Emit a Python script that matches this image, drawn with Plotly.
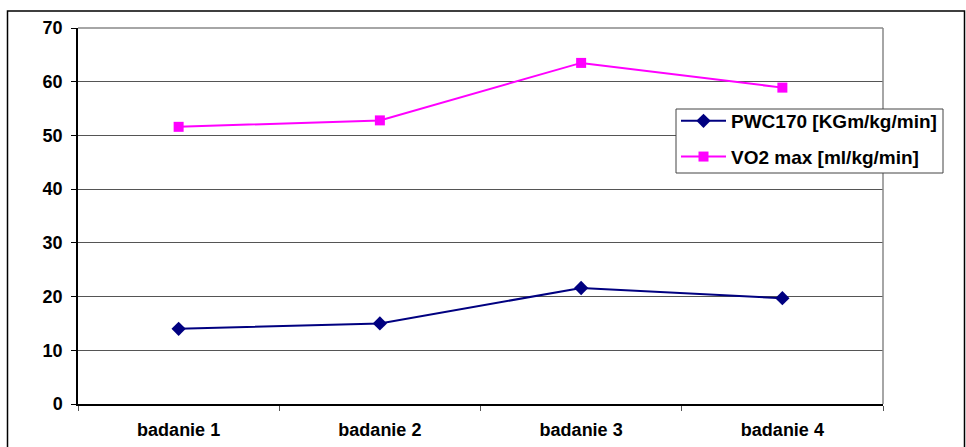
import plotly.graph_objects as go

categories = ["badanie 1", "badanie 2", "badanie 3", "badanie 4"]
pwc170 = [14.0, 15.0, 21.6, 19.7]
vo2max = [51.6, 52.8, 63.5, 58.9]
series_names = ["PWC170 [KGm/kg/min]", "VO2 max [ml/kg/min]"]
y_ticks = [0, 10, 20, 30, 40, 50, 60, 70]

FONT = "Liberation Sans, Arial, sans-serif"

fig = go.Figure()
fig.add_trace(go.Scatter(
    x=categories, y=pwc170, name=series_names[0], mode="lines+markers",
    line=dict(color="#000080", width=2),
    marker=dict(symbol="diamond", size=11, color="#000080"),
    legendgroup="a",
))
fig.add_trace(go.Scatter(
    x=categories, y=vo2max, name=series_names[1], mode="lines+markers",
    line=dict(color="#FF00FF", width=2),
    marker=dict(symbol="square", size=10, color="#FF00FF"),
    legendgroup="b",
))

L, R, T, B = 78, 83, 28, 43
W, H = 966, 447
pw, ph = W - L - R, H - T - B

def px(x):
    return (x - L) / pw

def py(y):
    return (H - B - y) / ph

fig.update_layout(
    width=W, height=H,
    margin=dict(l=L, r=R, t=T, b=B, autoexpand=False),
    paper_bgcolor="white", plot_bgcolor="white",
    font=dict(family=FONT, size=18, color="black"),
    showlegend=True,
    legend=dict(
        x=px(676), y=py(102), xanchor="left", yanchor="top",
        bgcolor="rgba(0,0,0,0)", borderwidth=0,
        font=dict(family=FONT, size=19, color="black", weight="bold"),
        tracegroupgap=8, itemwidth=45,
    ),
    xaxis=dict(
        type="category", range=[-0.5, 3.5], automargin=False,
        showgrid=False, showline=True, linecolor="black", linewidth=1.5,
        ticks="outside", tickson="boundaries", ticklen=5, tickcolor="#555",
        tickfont=dict(family=FONT, size=18, weight="bold"),
        ticklabelstandoff=9,
        zeroline=False, fixedrange=True,
    ),
    yaxis=dict(
        range=[0, 70], tickvals=y_ticks, automargin=False,
        showgrid=True, gridcolor="#555", gridwidth=1,
        showline=True, linecolor="black", linewidth=1.5,
        ticks="outside", ticklen=5, tickcolor="black",
        tickfont=dict(family=FONT, size=18, weight="bold"),
        ticklabelstandoff=5,
        zeroline=False, fixedrange=True,
    ),
    shapes=[
        dict(type="line", xref="paper", yref="paper", x0=0, x1=1, y0=1, y1=1,
             line=dict(color="#888", width=1.5)),
        dict(type="line", xref="paper", yref="paper", x0=1, x1=1, y0=0, y1=1,
             line=dict(color="#888", width=1.5)),
        dict(type="rect", xref="paper", yref="paper",
             x0=px(7.5), x1=px(964.5), y0=py(11), y1=py(470),
             line=dict(color="black", width=1.5), layer="below"),
        # legend box
        dict(type="rect", xref="paper", yref="paper",
             x0=px(676), x1=px(943), y0=py(109), y1=py(173),
             line=dict(color="#444", width=1), fillcolor="white", layer="above"),
    ],
)

fig.write_html(
    "out.html",
    config={"displayModeBar": False},
    post_script="document.body.style.margin='0';document.body.style.overflow='hidden';",
)
